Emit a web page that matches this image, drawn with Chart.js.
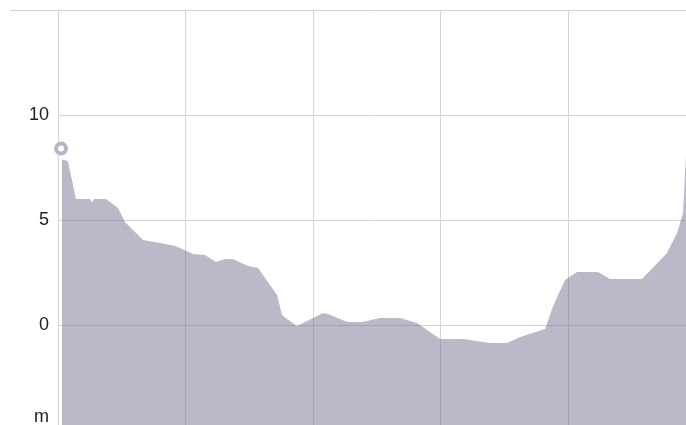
<!DOCTYPE html>
<html>
<head>
<meta charset="utf-8">
<script src="https://cdn.jsdelivr.net/npm/chart.js@4/dist/chart.umd.min.js"></script>
<style>
  html, body { margin: 0; padding: 0; background: #fff; }
  #wrap { width: 686px; height: 425px; position: relative; }
</style>
</head>
<body>
<div id="wrap"><canvas id="profil"></canvas></div>
<script>
// profil d'altitude - distance (unites de grille) / altitude (m)
const distance = [0.031, 0.078, 0.141, 0.251, 0.267, 0.282, 0.376, 0.471, 0.525, 0.667, 0.8, 0.918,
  0.957, 1.059, 1.153, 1.239, 1.31, 1.373, 1.49, 1.569, 1.663, 1.718, 1.757, 1.796, 1.875,
  2.0, 2.078, 2.118, 2.267, 2.384, 2.525, 2.682, 2.816, 2.996, 3.176, 3.388, 3.522, 3.624,
  3.82, 3.882, 3.976, 4.071, 4.235, 4.329, 4.58, 4.776, 4.855, 4.902, 4.925];
const altitude = [7.9, 7.8, 6.0, 6.0, 5.85, 6.0, 6.0, 5.57, 4.9, 4.05, 3.9, 3.76,
  3.67, 3.38, 3.33, 3.0, 3.14, 3.14, 2.81, 2.71, 1.9, 1.43, 0.48, 0.29, -0.05,
  0.33, 0.57, 0.52, 0.14, 0.14, 0.33, 0.33, 0.1, -0.67, -0.67, -0.86, -0.86, -0.57,
  -0.19, 0.9, 2.14, 2.52, 2.52, 2.19, 2.19, 3.43, 4.38, 5.33, 8.1];
const position = { x: 0.024, y: 8.4 };
const yTicks = [-4.4, 0, 5, 10, 15];
const unitTick = -4.4;

const gridColor = '#d4d4d4';

document.addEventListener('DOMContentLoaded', function() {
    const ctx = document.getElementById('profil').getContext('2d');
    new Chart(ctx, {
        type: 'line',
        data: {
            datasets: [{
                label: 'Position',
                data: [position],
                pointRadius: 5,
                pointBorderWidth: 4,
                pointBorderColor: '#b6b5c5',
                pointBackgroundColor: '#fff',
                showLine: false,
                clip: false
            }, {
                label: 'Altitude',
                data: distance.map((d, i) => ({ x: d, y: altitude[i] })),
                fill: 'start',
                backgroundColor: 'rgba(110, 108, 140, 0.48)',
                borderWidth: 0,
                pointRadius: 0,
                tension: 0
            }]
        },
        options: {
            responsive: true,
            maintainAspectRatio: false,
            animation: false,
            layout: { autoPadding: false, padding: { top: 10, left: 0, right: 0, bottom: 0 } },
            plugins: { legend: { display: false }, tooltip: { enabled: false } },
            scales: {
                x: {
                    type: 'linear',
                    min: 0,
                    max: 4.925,
                    ticks: { display: false, stepSize: 1 },
                    grid: { color: gridColor, drawTicks: false },
                    border: { display: false }
                },
                y: {
                    min: -4.76,
                    max: 15,
                    afterBuildTicks: s => { s.ticks = yTicks.map(v => ({ value: v })); },
                    afterFit: s => { s.width = 58; s.paddingTop = 0; s.paddingBottom = 0; },
                    ticks: {
                        padding: -39,
                        color: '#222',
                        font: { family: 'Liberation Sans, Arial, sans-serif', size: 18 },
                        callback: v => v === unitTick ? 'm' : (v === 15 ? '' : v)
                    },
                    grid: {
                        drawTicks: true,
                        tickLength: 48,
                        tickColor: c => c.tick && c.tick.value === 15 ? gridColor : 'rgba(0,0,0,0)',
                        color: c => c.tick && c.tick.value === unitTick ? 'rgba(0,0,0,0)' : gridColor
                    },
                    border: { color: gridColor }
                }
            }
        }
    });
});
</script>
</body>
</html>
